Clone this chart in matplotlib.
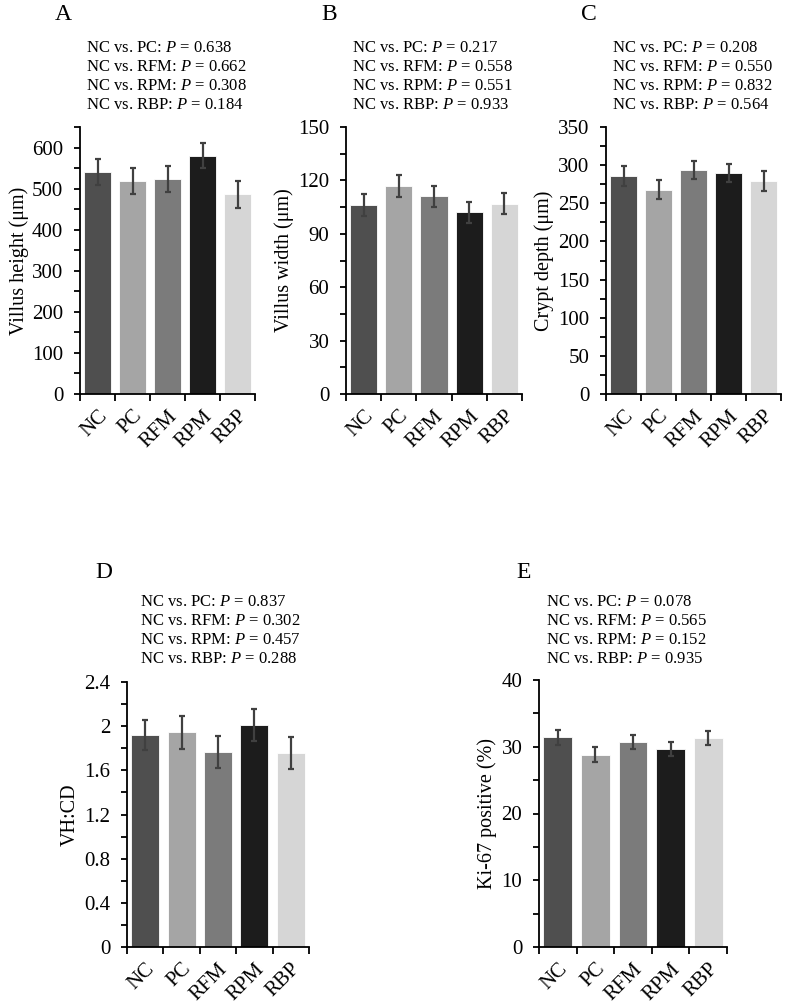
import matplotlib
matplotlib.use("Agg")
import matplotlib.pyplot as plt
from matplotlib.ticker import MultipleLocator, FixedLocator, FormatStrFormatter

plt.rcParams['font.family'] = ['Liberation Serif', 'DejaVu Serif']
plt.rcParams['mathtext.fontset'] = 'custom'
plt.rcParams['mathtext.rm'] = 'Liberation Serif'
plt.rcParams['mathtext.it'] = 'Liberation Serif:italic'

groups = ["NC", "PC", "RFM", "RPM", "RBP"]
bar_colors = ["#4f4f4f", "#a5a5a5", "#7b7b7b", "#1c1c1c", "#d6d6d6"]

vh_mean = [541, 519, 523, 580, 486]
vh_err = [31, 32, 32, 31, 32]
vw_mean = [106, 116.8, 111, 102, 107]
vw_err = [6.2, 6, 6, 6, 6]
cd_mean = [286, 268, 294, 290, 279]
cd_err = [13, 13, 12, 12, 13]
ratio_mean = [1.92, 1.945, 1.77, 2.015, 1.755]
ratio_err = [0.14, 0.15, 0.145, 0.145, 0.145]
ki_mean = [31.4, 28.8, 30.7, 29.6, 31.3]
ki_err = [1.15, 1.1, 1.1, 1.05, 1.1]

pvals_A = ["0.638", "0.662", "0.308", "0.184"]
pvals_B = ["0.217", "0.558", "0.551", "0.933"]
pvals_C = ["0.208", "0.550", "0.832", "0.564"]
pvals_D = ["0.837", "0.302", "0.457", "0.288"]
pvals_E = ["0.078", "0.565", "0.152", "0.935"]
comparisons = ["PC", "RFM", "RPM", "RBP"]

W, H = 789, 1007
fig = plt.figure(figsize=(W / 100, H / 100), dpi=100)


def fx(x):
    return x / W


def fy(y):
    return 1 - y / H


def panel(letter, left, right, top, bottom, means, errs, ymax, major, minor,
          ylabel, pvals, letter_x, letter_y, text_x, text_y0, ylabel_x):
    ax = fig.add_axes([fx(left), fy(bottom), (right - left) / W, (bottom - top) / H])
    x = list(range(len(groups)))
    ax.bar(x, means, width=0.77, color=bar_colors, edgecolor='white', linewidth=0.6, zorder=2)
    ax.errorbar(x, means, yerr=errs, fmt='none', ecolor='#404040', elinewidth=1.6,
                capsize=2.5, capthick=1.6, zorder=3)
    ax.set_xlim(-0.5, len(groups) - 0.5)
    ax.set_ylim(0, ymax)
    for s in ['top', 'right']:
        ax.spines[s].set_visible(False)
    for s in ['left', 'bottom']:
        ax.spines[s].set_linewidth(1.3)
    ax.yaxis.set_major_locator(MultipleLocator(major))
    ax.yaxis.set_minor_locator(MultipleLocator(minor))
    ax.yaxis.set_major_formatter(FormatStrFormatter('%g'))
    ax.tick_params(axis='y', which='both', direction='out', length=4, width=1.3,
                   labelsize=15, pad=8)
    ax.set_xticks(x)
    ax.set_xticklabels(groups, rotation=45, ha='right', rotation_mode='anchor',
                       fontsize=15)
    ax.xaxis.set_minor_locator(FixedLocator([i - 0.5 for i in range(len(groups) + 1)]))
    ax.tick_params(axis='x', which='major', length=0, pad=9)
    ax.tick_params(axis='x', which='minor', direction='out', length=5, width=1.3)
    ax.set_ylabel(ylabel, fontsize=14.5)
    ax.yaxis.set_label_coords((ylabel_x - left) / (right - left), 0.5)
    fig.text(fx(letter_x), fy(letter_y), letter, fontsize=17, ha='center', va='center')
    for i, (c, p) in enumerate(zip(comparisons, pvals)):
        fig.text(fx(text_x), fy(text_y0 + i * 19), f"NC vs. {c}: $P$ = {p}",
                 fontsize=12, ha='left', va='center')
    return ax


panel("A", 80, 255, 127, 394, vh_mean, vh_err, 650, 100, 50,
      "Villus height (\u03bcm)", pvals_A, 63, 14, 86, 48, 29)
panel("B", 346, 522, 127, 394, vw_mean, vw_err, 150, 30, 15,
      "Villus width (\u03bcm)", pvals_B, 329, 14, 352, 48, 294)
panel("C", 606, 781, 127, 394, cd_mean, cd_err, 350, 50, 25,
      "Crypt depth (\u03bcm)", pvals_C, 589, 14, 612, 48, 554)
panel("D", 127, 309, 682, 947, ratio_mean, ratio_err, 2.4, 0.4, 0.2,
      "VH:CD", pvals_D, 104, 572, 140, 602, 80)
panel("E", 539, 727, 680, 947, ki_mean, ki_err, 40, 10, 5,
      "Ki-67 positive (%)", pvals_E, 524, 572, 546, 602, 497)

fig.savefig("out.png", dpi=100)
